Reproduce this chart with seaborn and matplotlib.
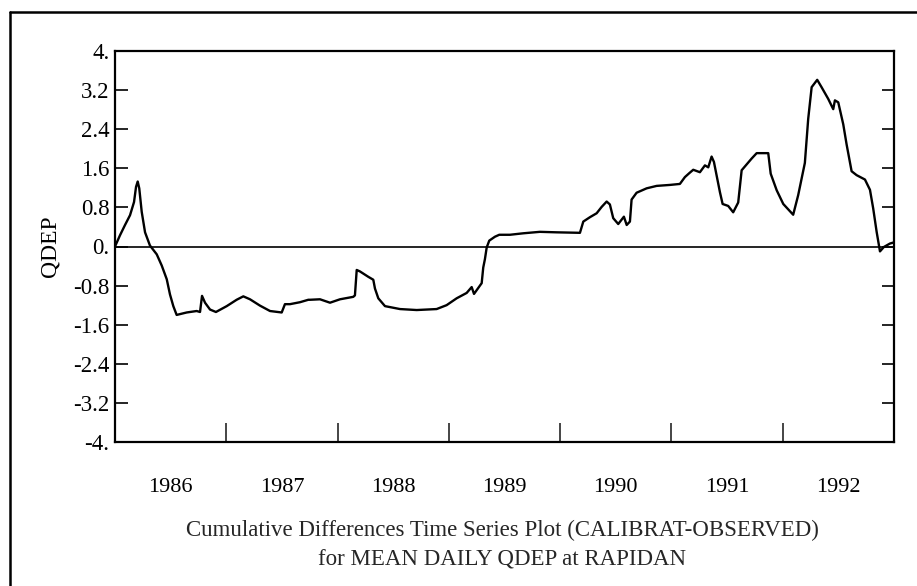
import numpy as np
import pandas as pd
import matplotlib
matplotlib.use("Agg")
import matplotlib.pyplot as plt
from matplotlib.lines import Line2D
from matplotlib.ticker import FixedLocator, FixedFormatter
import seaborn as sns

# tempo em anos decimais e diferença acumulada (CALIBRAT - OBSERVED)
anos = [
    1986.000, 1986.045, 1986.090, 1986.135, 1986.171, 1986.189, 1986.204, 1986.218,
    1986.240, 1986.270, 1986.314, 1986.375, 1986.420, 1986.465, 1986.494, 1986.524,
    1986.554, 1986.644, 1986.734, 1986.764, 1986.782, 1986.809, 1986.854, 1986.907,
    1987.004, 1987.093, 1987.153, 1987.213, 1987.303, 1987.393, 1987.498, 1987.527,
    1987.572, 1987.662, 1987.737, 1987.752, 1987.842, 1987.932, 1988.022, 1988.141,
    1988.156, 1988.172, 1988.201, 1988.276, 1988.321, 1988.336, 1988.366, 1988.426,
    1988.561, 1988.711, 1988.890, 1988.980, 1989.070, 1989.160, 1989.205, 1989.226,
    1989.295, 1989.309, 1989.324, 1989.340, 1989.363, 1989.414, 1989.453, 1989.549,
    1989.668, 1989.818, 1989.969, 1990.178, 1990.208, 1990.268, 1990.328, 1990.373,
    1990.418, 1990.447, 1990.477, 1990.522, 1990.553, 1990.573, 1990.598, 1990.627,
    1990.642, 1990.687, 1990.777, 1990.867, 1990.987, 1991.076, 1991.121, 1991.160,
    1991.196, 1991.256, 1991.301, 1991.331, 1991.361, 1991.382, 1991.406, 1991.436,
    1991.460, 1991.510, 1991.555, 1991.600, 1991.631, 1991.676, 1991.721, 1991.766,
    1991.870, 1991.892, 1991.946, 1992.005, 1992.094, 1992.139, 1992.199, 1992.229,
    1992.260, 1992.310, 1992.349, 1992.409, 1992.454, 1992.469, 1992.499, 1992.544,
    1992.574, 1992.619, 1992.664, 1992.739, 1992.784, 1992.813, 1992.844, 1992.874,
    1992.909, 1992.963, 1992.993,
]
qdep = [
    0.00, 0.23, 0.44, 0.64, 0.91, 1.22, 1.33, 1.19,
    0.71, 0.29, 0.02, -0.16, -0.39, -0.67, -0.98, -1.22,
    -1.40, -1.35, -1.32, -1.34, -1.01, -1.15, -1.29, -1.34,
    -1.22, -1.09, -1.02, -1.08, -1.21, -1.32, -1.35, -1.18,
    -1.18, -1.14, -1.09, -1.09, -1.08, -1.15, -1.08, -1.03,
    -1.00, -0.48, -0.51, -0.62, -0.68, -0.86, -1.06, -1.22,
    -1.28, -1.30, -1.28, -1.20, -1.06, -0.95, -0.83, -0.97,
    -0.75, -0.43, -0.26, -0.02, 0.12, 0.20, 0.24, 0.24,
    0.27, 0.30, 0.29, 0.28, 0.51, 0.60, 0.68, 0.81,
    0.92, 0.86, 0.58, 0.46, 0.55, 0.61, 0.44, 0.51,
    0.96, 1.10, 1.19, 1.24, 1.26, 1.28, 1.42, 1.50,
    1.57, 1.52, 1.66, 1.62, 1.84, 1.73, 1.45, 1.11,
    0.87, 0.83, 0.70, 0.90, 1.56, 1.68, 1.80, 1.91,
    1.91, 1.49, 1.15, 0.87, 0.65, 1.05, 1.71, 2.61,
    3.26, 3.41, 3.26, 3.02, 2.81, 2.99, 2.95, 2.50,
    2.09, 1.54, 1.46, 1.37, 1.16, 0.78, 0.30, -0.10,
    -0.01, 0.06, 0.08,
]

y_ticks = [-4, -3.2, -2.4, -1.6, -0.8, 0, 0.8, 1.6, 2.4, 3.2, 4]
y_labels = ["-4.", "-3.2", "-2.4", "-1.6", "-0.8", "0.", "0.8", "1.6", "2.4", "3.2", "4."]
limites_anos = [1987, 1988, 1989, 1990, 1991, 1992]
rotulos_anos = ["1986", "1987", "1988", "1989", "1990", "1991", "1992"]

titulo1 = "Cumulative Differences Time Series Plot (CALIBRAT-OBSERVED)"
titulo2 = "for MEAN DAILY QDEP at RAPIDAN"

df = pd.DataFrame({"Ano": anos, "QDEP": qdep})

sns.set_theme(style="white")
plt.rcParams["font.family"] = ["Liberation Serif", "DejaVu Serif"]

fig = plt.figure(figsize=(9.17, 5.86), dpi=100)
ax = fig.add_axes([115 / 917, 1 - 442 / 586, (894 - 115) / 917, (442 - 51) / 586])

sns.lineplot(data=df, x="Ano", y="QDEP", ax=ax, color="black", linewidth=1.7, estimator=None)
ax.axhline(0, color="black", linewidth=1.2)

ax.set_xlim(1986, 1993)
ax.set_ylim(-4, 4)

# eixo y: rótulos fixos no estilo do original
ax.yaxis.set_major_locator(FixedLocator(y_ticks))
ax.yaxis.set_major_formatter(FixedFormatter(y_labels))
ax.tick_params(axis="y", which="major", direction="in", length=9, width=1.2,
               left=True, right=True, labelsize=16.5, pad=4, colors="black")

# eixo x: marcas nas fronteiras dos anos, rótulos no meio de cada ano
ax.xaxis.set_major_locator(FixedLocator(limites_anos))
ax.xaxis.set_major_formatter(FixedFormatter([""] * len(limites_anos)))
meios = [int(r) + 0.5 for r in rotulos_anos]
ax.xaxis.set_minor_locator(FixedLocator(meios))
ax.xaxis.set_minor_formatter(FixedFormatter(rotulos_anos))
ax.tick_params(axis="x", which="major", direction="in", length=14, width=1.2, bottom=True)
ax.tick_params(axis="x", which="minor", length=0, labelsize=16, pad=26, colors="black")

for s in ax.spines.values():
    s.set_color("black")
    s.set_linewidth(1.6)

ax.set_xlabel("")
ax.set_ylabel("QDEP", fontsize=17, color="black")
ax.yaxis.set_label_coords((60 - 115) / 779, 0.5)

fig.text(502 / 917, 1 - 530 / 586, titulo1, ha="center", va="center", fontsize=16.5)
fig.text(502 / 917, 1 - 560 / 586, titulo2, ha="center", va="center", fontsize=16.5)

# moldura externa (só esquerda e topo aparecem na imagem)
fig.add_artist(Line2D([10 / 917, 10 / 917], [0, 1 - 12 / 586], transform=fig.transFigure,
                      color="black", linewidth=1.8))
fig.add_artist(Line2D([10 / 917, 1], [1 - 12 / 586, 1 - 12 / 586], transform=fig.transFigure,
                      color="black", linewidth=1.8))

fig.savefig("out.png", dpi=100)
